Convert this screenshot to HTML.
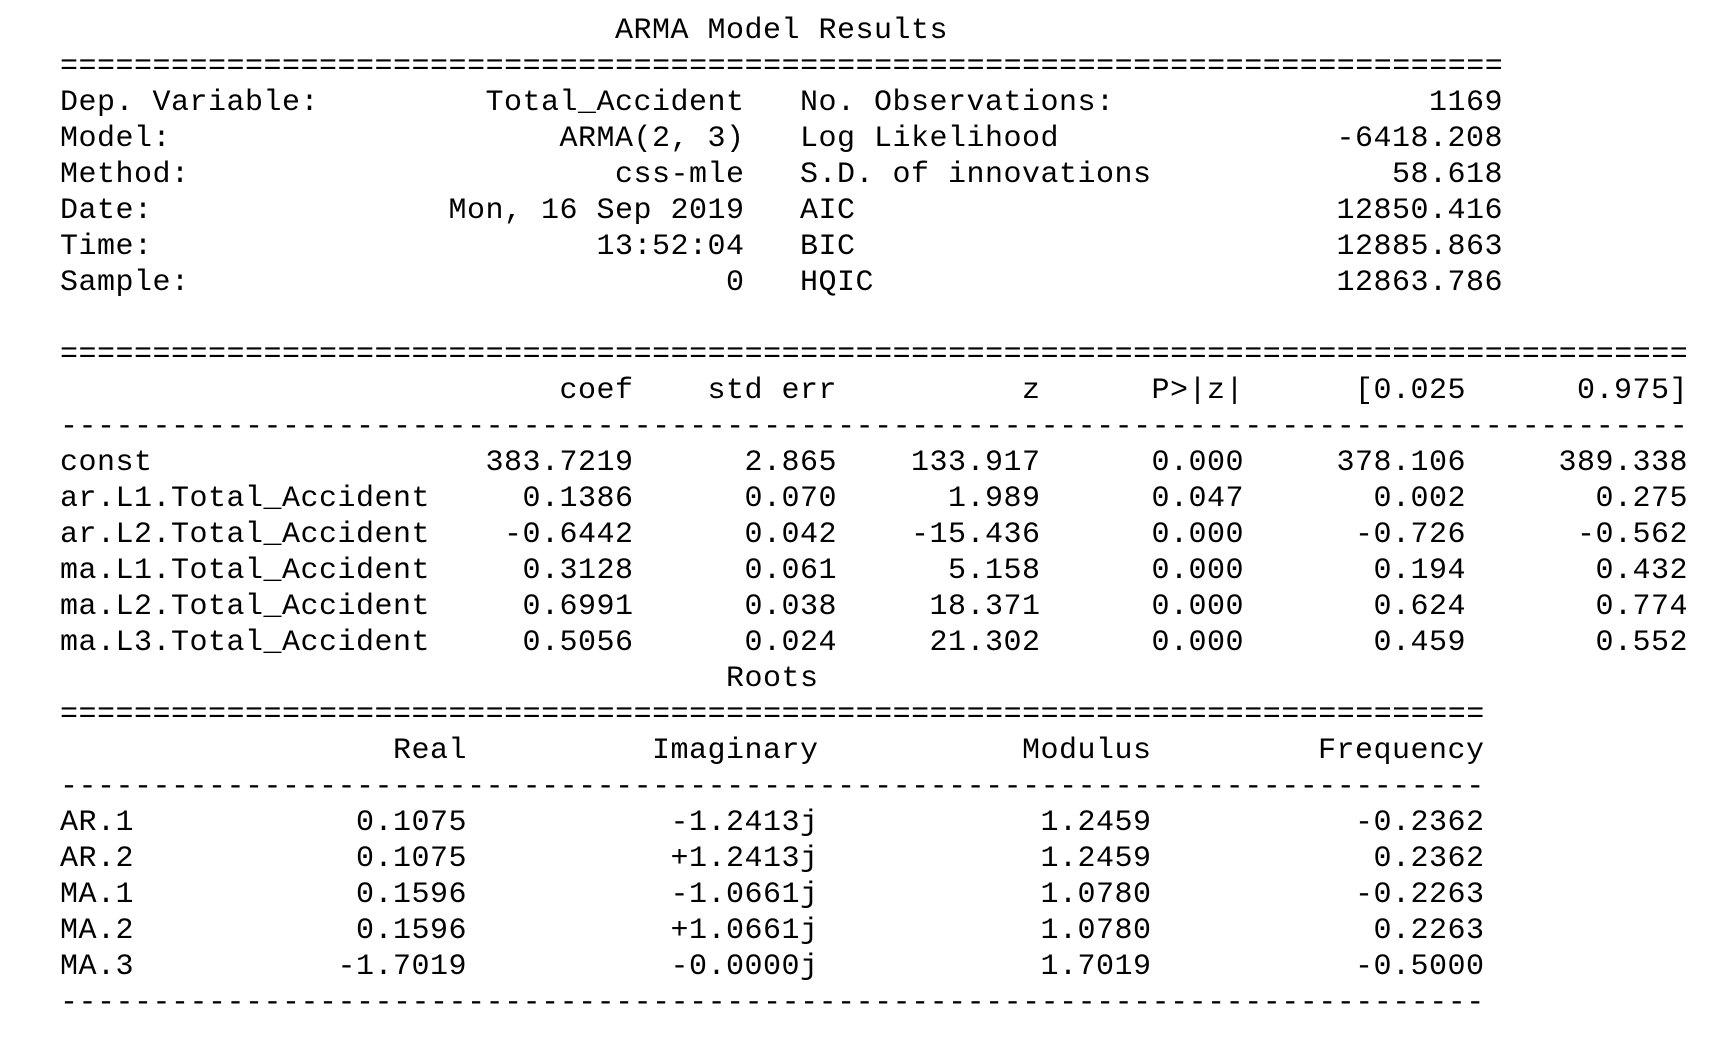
<!DOCTYPE html>
<html><head><meta charset="utf-8">
<style>
html,body{margin:0;padding:0;background:#fff;}
body{width:1726px;height:1042px;position:relative;overflow:hidden;font-family:"Liberation Mono","DejaVu Sans Mono",monospace;font-size:30px;letter-spacing:0.5px;color:#000;}
.wrap{position:absolute;left:0;top:3px;width:1726px;height:1042px;}
.ln{position:absolute;left:0;width:1726px;height:36px;line-height:36px;white-space:pre;}
.c{position:absolute;top:0;white-space:pre;}
</style></head><body><div class="wrap">
<div class="ln" style="top:10px"><span class="c" style="left:615px">ARMA Model Results</span></div>
<div class="ln" style="top:46px"><span class="c" style="left:60px">==============================================================================</span></div>

<div class="ln" style="top:82px"><span class="c" style="left:60px">Dep. Variable:</span><span class="c" style="right:981.5px">Total_Accident</span><span class="c" style="left:800px">No. Observations:</span><span class="c" style="right:223px">1169</span></div>
<div class="ln" style="top:118px"><span class="c" style="left:60px">Model:</span><span class="c" style="right:981.5px">ARMA(2, 3)</span><span class="c" style="left:800px">Log Likelihood</span><span class="c" style="right:223px">-6418.208</span></div>
<div class="ln" style="top:154px"><span class="c" style="left:60px">Method:</span><span class="c" style="right:981.5px">css-mle</span><span class="c" style="left:800px">S.D. of innovations</span><span class="c" style="right:223px">58.618</span></div>
<div class="ln" style="top:190px"><span class="c" style="left:60px">Date:</span><span class="c" style="right:981.5px">Mon, 16 Sep 2019</span><span class="c" style="left:800px">AIC</span><span class="c" style="right:223px">12850.416</span></div>
<div class="ln" style="top:226px"><span class="c" style="left:60px">Time:</span><span class="c" style="right:981.5px">13:52:04</span><span class="c" style="left:800px">BIC</span><span class="c" style="right:223px">12885.863</span></div>
<div class="ln" style="top:262px"><span class="c" style="left:60px">Sample:</span><span class="c" style="right:981.5px">0</span><span class="c" style="left:800px">HQIC</span><span class="c" style="right:223px">12863.786</span></div>

<div class="ln" style="top:334px"><span class="c" style="left:60px">========================================================================================</span></div>
<div class="ln" style="top:370px"><span class="c" style="right:1092.5px">coef</span><span class="c" style="right:889px">std err</span><span class="c" style="right:685.5px">z</span><span class="c" style="right:482px">P&gt;|z|</span><span class="c" style="right:260px">[0.025</span><span class="c" style="right:38px">0.975]</span></div>
<div class="ln" style="top:406px"><span class="c" style="left:60px">----------------------------------------------------------------------------------------</span></div>

<div class="ln" style="top:442px"><span class="c" style="left:60px">const</span><span class="c" style="right:1092.5px">383.7219</span><span class="c" style="right:889px">2.865</span><span class="c" style="right:685.5px">133.917</span><span class="c" style="right:482px">0.000</span><span class="c" style="right:260px">378.106</span><span class="c" style="right:38px">389.338</span></div>
<div class="ln" style="top:478px"><span class="c" style="left:60px">ar.L1.Total_Accident</span><span class="c" style="right:1092.5px">0.1386</span><span class="c" style="right:889px">0.070</span><span class="c" style="right:685.5px">1.989</span><span class="c" style="right:482px">0.047</span><span class="c" style="right:260px">0.002</span><span class="c" style="right:38px">0.275</span></div>
<div class="ln" style="top:514px"><span class="c" style="left:60px">ar.L2.Total_Accident</span><span class="c" style="right:1092.5px">-0.6442</span><span class="c" style="right:889px">0.042</span><span class="c" style="right:685.5px">-15.436</span><span class="c" style="right:482px">0.000</span><span class="c" style="right:260px">-0.726</span><span class="c" style="right:38px">-0.562</span></div>
<div class="ln" style="top:550px"><span class="c" style="left:60px">ma.L1.Total_Accident</span><span class="c" style="right:1092.5px">0.3128</span><span class="c" style="right:889px">0.061</span><span class="c" style="right:685.5px">5.158</span><span class="c" style="right:482px">0.000</span><span class="c" style="right:260px">0.194</span><span class="c" style="right:38px">0.432</span></div>
<div class="ln" style="top:586px"><span class="c" style="left:60px">ma.L2.Total_Accident</span><span class="c" style="right:1092.5px">0.6991</span><span class="c" style="right:889px">0.038</span><span class="c" style="right:685.5px">18.371</span><span class="c" style="right:482px">0.000</span><span class="c" style="right:260px">0.624</span><span class="c" style="right:38px">0.774</span></div>
<div class="ln" style="top:622px"><span class="c" style="left:60px">ma.L3.Total_Accident</span><span class="c" style="right:1092.5px">0.5056</span><span class="c" style="right:889px">0.024</span><span class="c" style="right:685.5px">21.302</span><span class="c" style="right:482px">0.000</span><span class="c" style="right:260px">0.459</span><span class="c" style="right:38px">0.552</span></div>

<div class="ln" style="top:658px"><span class="c" style="left:726px">Roots</span></div>
<div class="ln" style="top:694px"><span class="c" style="left:60px">=============================================================================</span></div>
<div class="ln" style="top:730px"><span class="c" style="right:1259px">Real</span><span class="c" style="right:907.5px">Imaginary</span><span class="c" style="right:574.5px">Modulus</span><span class="c" style="right:241.5px">Frequency</span></div>
<div class="ln" style="top:766px"><span class="c" style="left:60px">-----------------------------------------------------------------------------</span></div>

<div class="ln" style="top:802px"><span class="c" style="left:60px">AR.1</span><span class="c" style="right:1259px">0.1075</span><span class="c" style="right:907.5px">-1.2413j</span><span class="c" style="right:574.5px">1.2459</span><span class="c" style="right:241.5px">-0.2362</span></div>
<div class="ln" style="top:838px"><span class="c" style="left:60px">AR.2</span><span class="c" style="right:1259px">0.1075</span><span class="c" style="right:907.5px">+1.2413j</span><span class="c" style="right:574.5px">1.2459</span><span class="c" style="right:241.5px">0.2362</span></div>
<div class="ln" style="top:874px"><span class="c" style="left:60px">MA.1</span><span class="c" style="right:1259px">0.1596</span><span class="c" style="right:907.5px">-1.0661j</span><span class="c" style="right:574.5px">1.0780</span><span class="c" style="right:241.5px">-0.2263</span></div>
<div class="ln" style="top:910px"><span class="c" style="left:60px">MA.2</span><span class="c" style="right:1259px">0.1596</span><span class="c" style="right:907.5px">+1.0661j</span><span class="c" style="right:574.5px">1.0780</span><span class="c" style="right:241.5px">0.2263</span></div>
<div class="ln" style="top:946px"><span class="c" style="left:60px">MA.3</span><span class="c" style="right:1259px">-1.7019</span><span class="c" style="right:907.5px">-0.0000j</span><span class="c" style="right:574.5px">1.7019</span><span class="c" style="right:241.5px">-0.5000</span></div>
<div class="ln" style="top:982px"><span class="c" style="left:60px">-----------------------------------------------------------------------------</span></div>
</div></body></html>
